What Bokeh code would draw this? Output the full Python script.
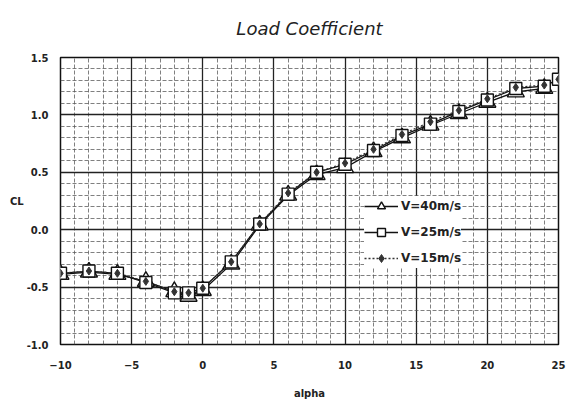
from bokeh.plotting import figure
from bokeh.models import ColumnDataSource, FixedTicker, Legend, LegendItem, NumeralTickFormatter
from bokeh.embed import file_html
from bokeh.resources import INLINE

# ---- data ----
alpha = [-10, -8, -6, -4, -2, -1, 0, 2, 4, 6, 8, 10, 12, 14, 16, 18, 20, 22, 24, 25]
cl_v40 = [-0.39, -0.37, -0.39, -0.45, -0.54, -0.58, -0.53, -0.30, 0.04, 0.30, 0.48, 0.54,
          0.68, 0.80, 0.91, 1.01, 1.11, 1.20, 1.23]
cl_v25 = [-0.38, -0.36, -0.38, -0.46, -0.55, -0.55, -0.51, -0.28, 0.05, 0.31, 0.50, 0.57,
          0.69, 0.82, 0.92, 1.03, 1.13, 1.23, 1.25, 1.31]
cl_v15 = [-0.38, -0.36, -0.38, -0.45, -0.54, -0.55, -0.51, -0.28, 0.05, 0.32, 0.50, 0.58,
          0.70, 0.83, 0.94, 1.04, 1.14, 1.24, 1.26, 1.31]
x_ticks = [-10, -5, 0, 5, 10, 15, 20, 25]
y_ticks = [-1.0, -0.5, 0.0, 0.5, 1.0, 1.5]
x_minor = [v for v in range(-10, 26) if v % 5 != 0]
y_minor = [round(-1.0 + 0.1 * i, 1) for i in range(26) if i % 5 != 0]
labels = ["V=40m/s", "V=25m/s", "V=15m/s"]

src40 = ColumnDataSource(dict(x=alpha[:len(cl_v40)], y=cl_v40))
src25 = ColumnDataSource(dict(x=alpha, y=cl_v25))
src15 = ColumnDataSource(dict(x=alpha, y=cl_v15))

p = figure(frame_width=498, frame_height=287, output_backend="svg", toolbar_location=None,
           x_range=(-10, 25), y_range=(-1.0, 1.5),
           min_border_left=60, min_border_right=10, min_border_top=57, min_border_bottom=56)

p.title.text = "Load Coefficient"
p.title.align = "center"
p.title.vertical_align = "top"
p.title.text_font = "DejaVu Sans"
p.title.text_font_style = "italic"
p.title.text_font_size = "18px"
p.title.text_color = "#222222"
p.title.standoff = 33

p.background_fill_color = "white"
p.border_fill_color = "white"
p.outline_line_color = "#111111"
p.outline_line_width = 1.5

p.xaxis.ticker = FixedTicker(ticks=x_ticks, minor_ticks=x_minor)
p.yaxis.ticker = FixedTicker(ticks=y_ticks, minor_ticks=y_minor)
p.yaxis.formatter = NumeralTickFormatter(format="0.0")

for ax in (p.xaxis[0], p.yaxis[0]):
    ax.axis_line_color = None
    ax.major_tick_line_color = None
    ax.minor_tick_line_color = None
    ax.major_tick_in = 0
    ax.major_tick_out = 0
    ax.minor_tick_in = 0
    ax.minor_tick_out = 0
    ax.major_label_text_font = "DejaVu Sans"
    ax.major_label_text_font_style = "bold"
    ax.major_label_text_font_size = "10px"
    ax.major_label_text_color = "#222222"
    ax.axis_label_text_font = "DejaVu Sans"
    ax.axis_label_text_font_style = "bold"
    ax.axis_label_text_font_size = "10px"
    ax.axis_label_text_color = "#222222"

p.xaxis.axis_label = "alpha"
p.xaxis.major_label_standoff = 16
p.xaxis.axis_label_standoff = 16
p.yaxis.axis_label = "CL"
p.yaxis.axis_label_orientation = "horizontal"
p.yaxis.major_label_standoff = 12
p.yaxis.axis_label_standoff = 0

for g in (p.xgrid[0], p.ygrid[0]):
    g.grid_line_color = "#222222"
    g.grid_line_width = 1.3
    g.minor_grid_line_color = "#555555"
    g.minor_grid_line_width = 1
    g.minor_grid_line_dash = "4 2"
    g.minor_grid_line_alpha = 0.75

# ---- series ----
l40 = p.line("x", "y", source=src40, line_color="#111111", line_width=1.3)
l25 = p.line("x", "y", source=src25, line_color="#111111", line_width=1.3)
l15 = p.line("x", "y", source=src15, line_color="#333333", line_width=1.3, line_dash="2 2")
m40 = p.scatter("x", "y", source=src40, marker="triangle", size=17,
                fill_color="white", line_color="#111111", line_width=1.4)
m25 = p.scatter("x", "y", source=src25, marker="square", size=12,
                fill_color="white", line_color="#111111", line_width=1.4)
m15 = p.scatter("x", "y", source=src15, marker="diamond", size=8,
                fill_color="#333333", line_color="#333333", line_width=1)

legend = Legend(items=[LegendItem(label=labels[0], renderers=[l40, m40]),
                       LegendItem(label=labels[1], renderers=[l25, m25]),
                       LegendItem(label=labels[2], renderers=[l15, m15])],
                location=(304, 76), margin=0, padding=4, spacing=6,
                glyph_width=34, glyph_height=20, label_height=20, label_standoff=3,
                background_fill_color="white", background_fill_alpha=1,
                border_line_color=None,
                label_text_font="DejaVu Sans", label_text_font_style="bold",
                label_text_font_size="12px", label_text_color="#222222")
p.add_layout(legend)

open("out.html", "w").write(file_html(p, INLINE))
